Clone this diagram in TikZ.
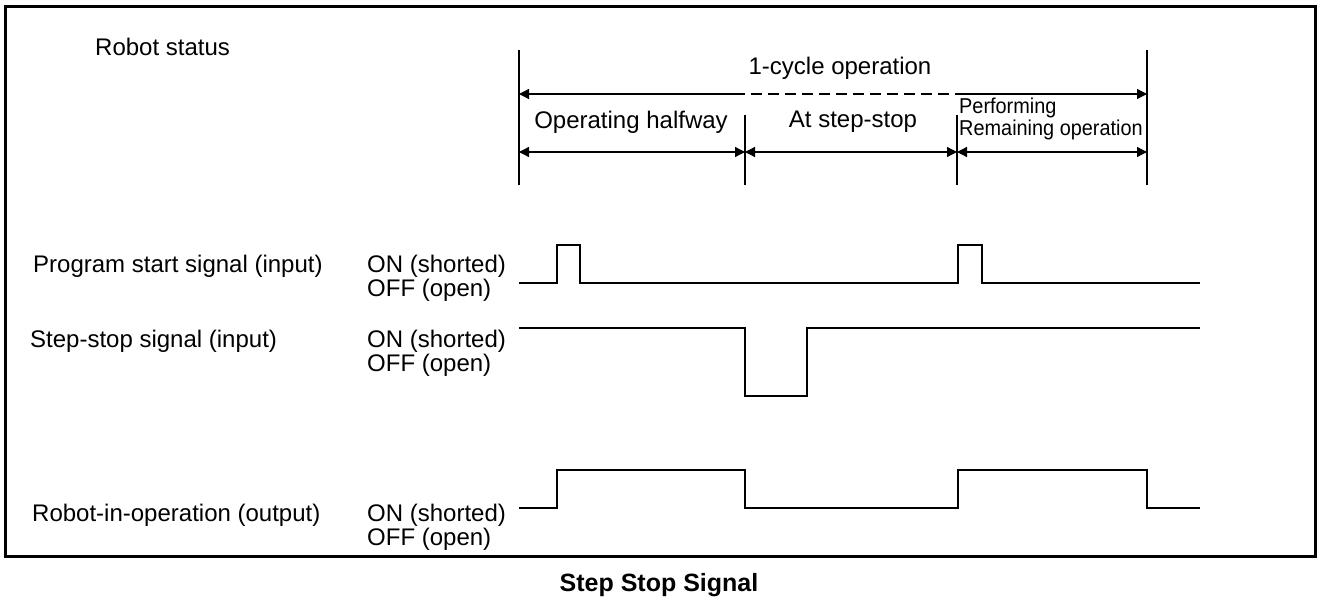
\documentclass[tikz,border=0pt]{standalone}
\usepackage{fontspec}
\setmainfont{Liberation Sans}
\usetikzlibrary{arrows.meta}
\begin{document}
\begin{tikzpicture}[x=1pt,y=-1pt,
  txt/.style={font=\fontsize{24}{24}\selectfont, inner sep=0pt},
  lbl/.style={txt, anchor=west},
  onoff/.style={txt, anchor=west, align=left},
  small/.style={font=\fontsize{21.5}{20.5}\selectfont, inner sep=0pt, anchor=west},
  sig/.style={line width=1.6pt},
  tickline/.style={line width=1.3pt},
  dimline/.style={line width=1.3pt, {Triangle[length=10pt,width=10pt]}-{Triangle[length=10pt,width=10pt]}},
  capt/.style={font=\fontsize{25}{25}\selectfont\bfseries, inner sep=0pt}
]
\useasboundingbox (0,0) rectangle (1317,602);
\draw[line width=3pt] (5,7) rectangle (1315,556);

% top section
\node[lbl] (rs) at (95,47) {Robot status};
\coordinate (t0top) at (519,50);  \coordinate (t0bot) at (519,185);
\coordinate (t1top) at (745,115); \coordinate (t1bot) at (745,185);
\coordinate (t2top) at (957,115); \coordinate (t2bot) at (957,185);
\coordinate (t3top) at (1147,50); \coordinate (t3bot) at (1147,185);
\draw[tickline] (t0top) -- (t0bot);
\draw[tickline] (t1top) -- (t1bot);
\draw[tickline] (t2top) -- (t2bot);
\draw[tickline] (t3top) -- (t3bot);

\coordinate (a0) at (519,94); \coordinate (a3) at (1147,94);
\coordinate (d0) at (734,94); \coordinate (d1) at (966,94);
\draw[line width=1.3pt, {Triangle[length=10pt,width=10pt]}-] (a0) -- (d0);
\draw[line width=1.3pt, dash pattern=on 11pt off 6pt] (d0) -- (d1);
\draw[line width=1.3pt, -{Triangle[length=10pt,width=10pt]}] (d1) -- (a3);
\node[txt] (cyc) at (840,68) {1-cycle operation};

\coordinate (b0) at (519,152); \coordinate (b1) at (745,152);
\coordinate (b2) at (957,152); \coordinate (b3) at (1147,152);
\draw[dimline] (b0) -- (b1);
\draw[dimline] (b1) -- (b2);
\draw[dimline] (b2) -- (b3);
\node[txt] (oh) at (631,122) {Operating halfway};
\node[txt] (ss) at (853,122) {At step-stop};
\node[small] (pr) at (959,120) {\scalebox{0.925}[1]{\begin{tabular}{@{}l@{}}Performing\\Remaining operation\end{tabular}}};

% signal labels
\node[lbl] (ps) at (33,266) {Program start signal (input)};
\node[onoff] (pso) at (367,278) {ON (shorted)\\OFF (open)};
\node[lbl] (st) at (30,341) {Step-stop signal (input)};
\node[onoff] (sto) at (367,353) {ON (shorted)\\OFF (open)};
\node[lbl] (ro) at (32,515) {Robot-in-operation (output)};
\node[onoff] (roo) at (367,527) {ON (shorted)\\OFF (open)};

% waveforms
\draw[sig] (519,283) -- (557,283) -- (557,245) -- (580,245) -- (580,283) -- (958,283)
  -- (958,245) -- (982,245) -- (982,283) -- (1200,283);
\draw[sig] (519,328) -- (745,328) -- (745,396) -- (807,396) -- (807,328) -- (1200,328);
\draw[sig] (519,508) -- (557,508) -- (557,470) -- (745,470) -- (745,508) -- (958,508)
  -- (958,470) -- (1147,470) -- (1147,508) -- (1200,508);

\node[capt] (cap) at (659,585) {Step Stop Signal};
\end{tikzpicture}
\end{document}
